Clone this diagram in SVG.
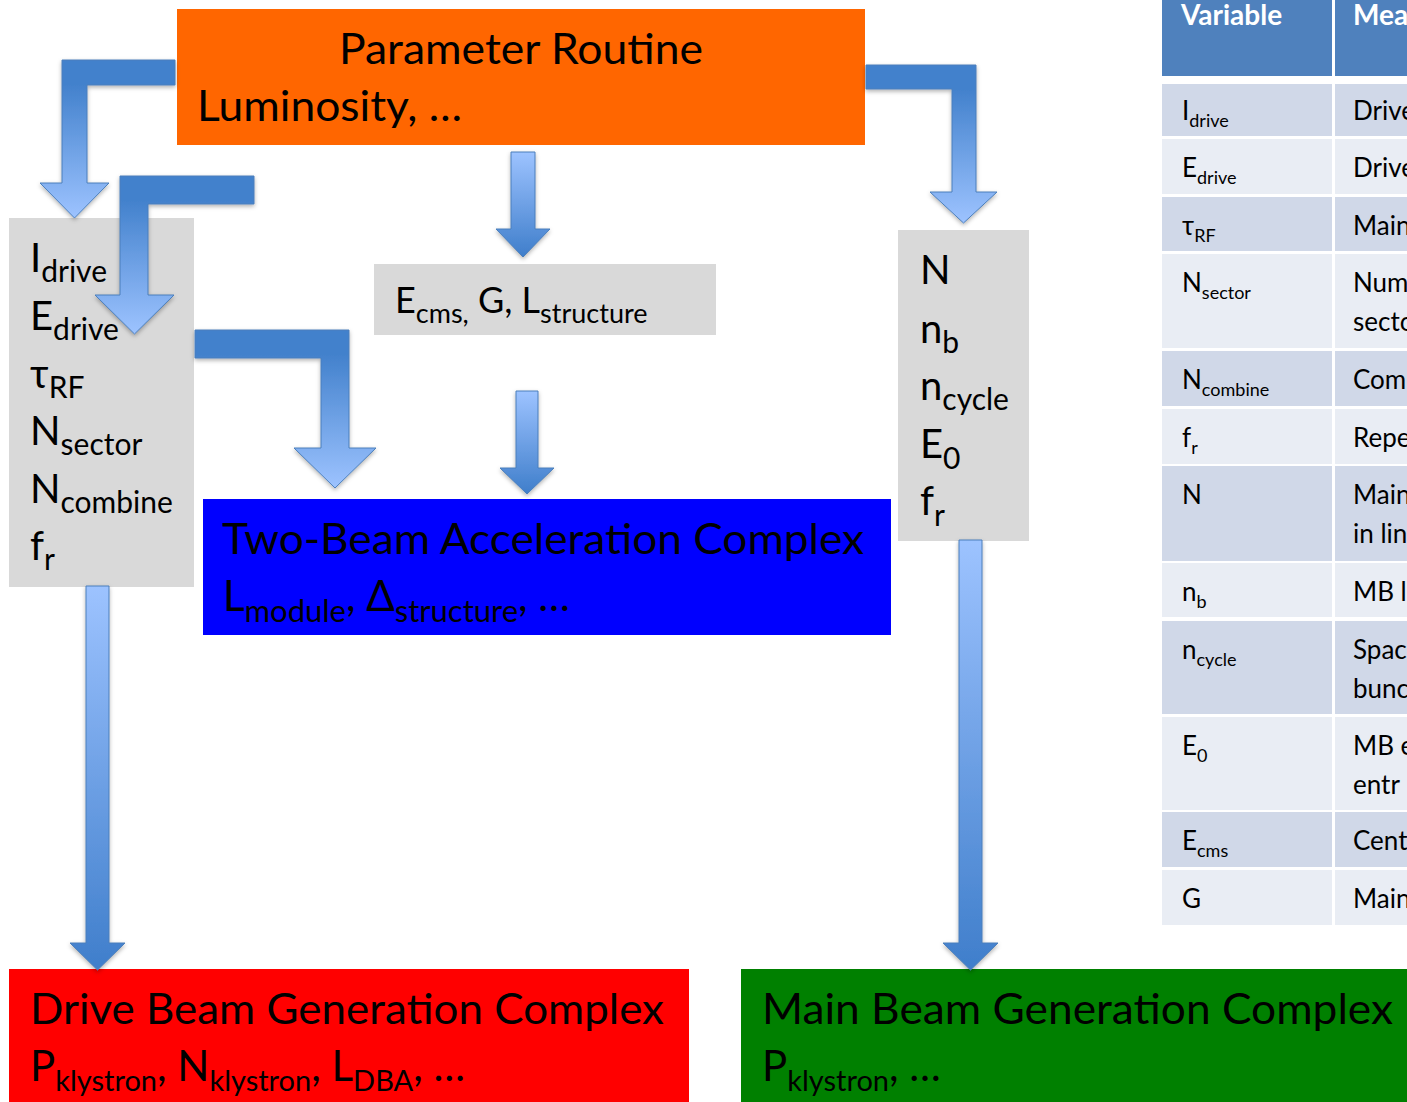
<svg xmlns="http://www.w3.org/2000/svg" width="1407" height="1102" viewBox="0 0 1407 1102">
<defs>
<linearGradient id="gDown" x1="0" y1="0" x2="0" y2="1"><stop offset="0" stop-color="#9DC3FF"/><stop offset="1" stop-color="#3F7ECB"/></linearGradient>
<linearGradient id="gBent" x1="0" y1="0" x2="0" y2="1"><stop offset="0.15" stop-color="#4281CC"/><stop offset="1" stop-color="#9DC3FF"/></linearGradient>
<filter id="sh" x="-20%" y="-20%" width="140%" height="140%"><feDropShadow dx="0" dy="2" stdDeviation="2" flood-color="#000" flood-opacity="0.3"/></filter>
</defs>
<style>
text{font-family:Lato,"Open Sans","Liberation Sans",sans-serif;fill:#000}
.big{font-size:42px}
.var{font-size:40px}
.vsub{font-size:30px}
.sub{font-size:31px}
.sub2{font-size:29px}
.tb{font-size:26px}
.ts{font-size:18px}
.hd{font-size:28px;font-weight:bold;fill:#fff}
.arrowB{fill:url(#gBent);stroke:#4A7EBB;stroke-width:1;filter:url(#sh)}
.arrowD{fill:url(#gDown);stroke:#4A7EBB;stroke-width:1;filter:url(#sh)}
.grey{fill:#D9D9D9}
.rd{fill:#D0D8E8}
.rl{fill:#E9EDF4}
</style>
<rect width="1407" height="1102" fill="#fff"/>

<g id="table">
<rect x="1162" y="0" width="170" height="76" fill="#4F81BD"/>
<rect x="1335" y="0" width="72" height="76" fill="#4F81BD"/>
<text class="hd" x="1181" y="25">Variable</text>
<text class="hd" x="1353" y="25">Mea</text>
<rect class="rd" x="1162" y="84" width="170" height="52"/><rect class="rd" x="1335" y="84" width="72" height="52"/>
<rect class="rl" x="1162" y="139" width="170" height="55"/><rect class="rl" x="1335" y="139" width="72" height="55"/>
<rect class="rd" x="1162" y="197" width="170" height="54"/><rect class="rd" x="1335" y="197" width="72" height="54"/>
<rect class="rl" x="1162" y="254" width="170" height="94"/><rect class="rl" x="1335" y="254" width="72" height="94"/>
<rect class="rd" x="1162" y="351" width="170" height="55"/><rect class="rd" x="1335" y="351" width="72" height="55"/>
<rect class="rl" x="1162" y="409" width="170" height="55"/><rect class="rl" x="1335" y="409" width="72" height="55"/>
<rect class="rd" x="1162" y="466" width="170" height="95"/><rect class="rd" x="1335" y="466" width="72" height="95"/>
<rect class="rl" x="1162" y="563" width="170" height="54"/><rect class="rl" x="1335" y="563" width="72" height="54"/>
<rect class="rd" x="1162" y="621" width="170" height="93"/><rect class="rd" x="1335" y="621" width="72" height="93"/>
<rect class="rl" x="1162" y="717" width="170" height="93"/><rect class="rl" x="1335" y="717" width="72" height="93"/>
<rect class="rd" x="1162" y="812" width="170" height="55"/><rect class="rd" x="1335" y="812" width="72" height="55"/>
<rect class="rl" x="1162" y="870" width="170" height="55"/><rect class="rl" x="1335" y="870" width="72" height="55"/>
<text class="tb" x="1182" y="120">I<tspan class="ts" dy="7">drive</tspan></text><text class="tb" x="1353" y="120">Drive</text>
<text class="tb" x="1182" y="177">E<tspan class="ts" dy="7">drive</tspan></text><text class="tb" x="1353" y="177">Drive</text>
<text class="tb" x="1182" y="235">τ<tspan class="ts" dy="7">RF</tspan></text><text class="tb" x="1353" y="235">Main</text>
<text class="tb" x="1182" y="292">N<tspan class="ts" dy="7">sector</tspan></text><text class="tb" x="1353" y="292">Num</text><text class="tb" x="1353" y="331">secto</text>
<text class="tb" x="1182" y="389">N<tspan class="ts" dy="7">combine</tspan></text><text class="tb" x="1353" y="389">Com</text>
<text class="tb" x="1182" y="447">f<tspan class="ts" dy="7">r</tspan></text><text class="tb" x="1353" y="447">Repe</text>
<text class="tb" x="1182" y="504">N</text><text class="tb" x="1353" y="504">Main</text><text class="tb" x="1353" y="543">in lin</text>
<text class="tb" x="1182" y="601">n<tspan class="ts" dy="7">b</tspan></text><text class="tb" x="1353" y="601">MB l</text>
<text class="tb" x="1182" y="659">n<tspan class="ts" dy="7">cycle</tspan></text><text class="tb" x="1353" y="659">Spac</text><text class="tb" x="1353" y="698">bunc</text>
<text class="tb" x="1182" y="755">E<tspan class="ts" dy="7">0</tspan></text><text class="tb" x="1353" y="755">MB e</text><text class="tb" x="1353" y="794">entr</text>
<text class="tb" x="1182" y="850">E<tspan class="ts" dy="7">cms</tspan></text><text class="tb" x="1353" y="850">Cent</text>
<text class="tb" x="1182" y="908">G</text><text class="tb" x="1353" y="908">Main</text>
</g>

<g id="param-routine">
<rect x="177" y="9" width="688" height="136" fill="#FF6600"/>
<text class="big" x="339" y="64" textLength="364" lengthAdjust="spacingAndGlyphs">Parameter Routine</text>
<text class="big" x="197" y="121" textLength="265" lengthAdjust="spacingAndGlyphs">Luminosity, …</text>
</g>

<g id="drive-params">
<rect class="grey" x="9" y="218" width="185" height="369"/>
<text class="var" x="30" y="272">I<tspan class="vsub" dy="10">drive</tspan></text>
<text class="var" x="30" y="330">E<tspan class="vsub" dy="10">drive</tspan></text>
<text class="var" x="30" y="388">τ<tspan class="vsub" dy="10">RF</tspan></text>
<text class="var" x="30" y="445">N<tspan class="vsub" dy="10">sector</tspan></text>
<text class="var" x="30" y="503">N<tspan class="vsub" dy="10">combine</tspan></text>
<text class="var" x="30" y="560">f<tspan class="vsub" dy="10">r</tspan></text>
</g>

<g id="beam-params">
<rect class="grey" x="374" y="264" width="342" height="71"/>
<text x="395" y="313" style="font-size:36px">E<tspan dy="10" style="font-size:27px">cms,</tspan><tspan dy="-10"> G, L</tspan><tspan dy="10" style="font-size:27px">structure</tspan></text>
</g>

<g id="main-params">
<rect class="grey" x="898" y="230" width="131" height="311"/>
<text class="var" x="920" y="284">N</text>
<text class="var" x="920" y="343">n<tspan class="vsub" dy="10">b</tspan></text>
<text class="var" x="920" y="400">n<tspan class="vsub" dy="10">cycle</tspan></text>
<text class="var" x="920" y="458">E<tspan class="vsub" dy="11">0</tspan></text>
<text class="var" x="920" y="515">f<tspan class="vsub" dy="11">r</tspan></text>
</g>

<g id="two-beam">
<rect x="203" y="499" width="688" height="136" fill="#0000FF"/>
<text class="big" x="222" y="554" textLength="642" lengthAdjust="spacingAndGlyphs">Two-Beam Acceleration Complex</text>
<text class="big" x="223" y="611">L<tspan class="sub" dy="11">module</tspan><tspan dy="-11">, Δ</tspan><tspan class="sub" dy="11">structure</tspan><tspan dy="-11">, …</tspan></text>
</g>

<g id="drive-beam">
<rect x="9" y="969" width="680" height="133" fill="#FF0000"/>
<text class="big" x="30" y="1024" textLength="634" lengthAdjust="spacingAndGlyphs">Drive Beam Generation Complex</text>
<text class="big" x="30" y="1081">P<tspan class="sub2" dy="10">klystron</tspan><tspan dy="-10">, N</tspan><tspan class="sub2" dy="10">klystron</tspan><tspan dy="-10">, L</tspan><tspan class="sub2" dy="10">DBA</tspan><tspan dy="-10">, …</tspan></text>
</g>

<g id="main-beam">
<rect x="741" y="969" width="666" height="133" fill="#008000"/>
<text class="big" x="762" y="1024" textLength="631" lengthAdjust="spacingAndGlyphs">Main Beam Generation Complex</text>
<text class="big" x="762" y="1081">P<tspan class="sub2" dy="10">klystron</tspan><tspan dy="-10">, …</tspan></text>
</g>

<g id="connectors">
<polygon class="arrowB" points="175,60 62,60 62,183 40,183 74.5,218 109,183 87,183 87,85 175,85"/>
<polygon class="arrowB" points="254,176 120,176 120,295 95,295 134.5,334 174,295 148,295 148,204 254,204"/>
<polygon class="arrowB" points="195,330 349,330 349,448 376,448 335,488 294,448 321,448 321,358 195,358"/>
<polygon class="arrowB" points="866,65 976,65 976,192 997,192 963.5,223 930,192 952,192 952,89 866,89"/>
<polygon class="arrowD" points="511,152 535,152 535,229 550,229 523,257 496,229 511,229"/>
<polygon class="arrowD" points="516,391 538,391 538,468 554,468 527,494 500,468 516,468"/>
<polygon class="arrowD" points="86,586 109,586 109,943 125,943 97.5,970 70,943 86,943"/>
<polygon class="arrowD" points="959,540 982,540 982,943 998,943 970.5,970 943,943 959,943"/>
</g>
</svg>
